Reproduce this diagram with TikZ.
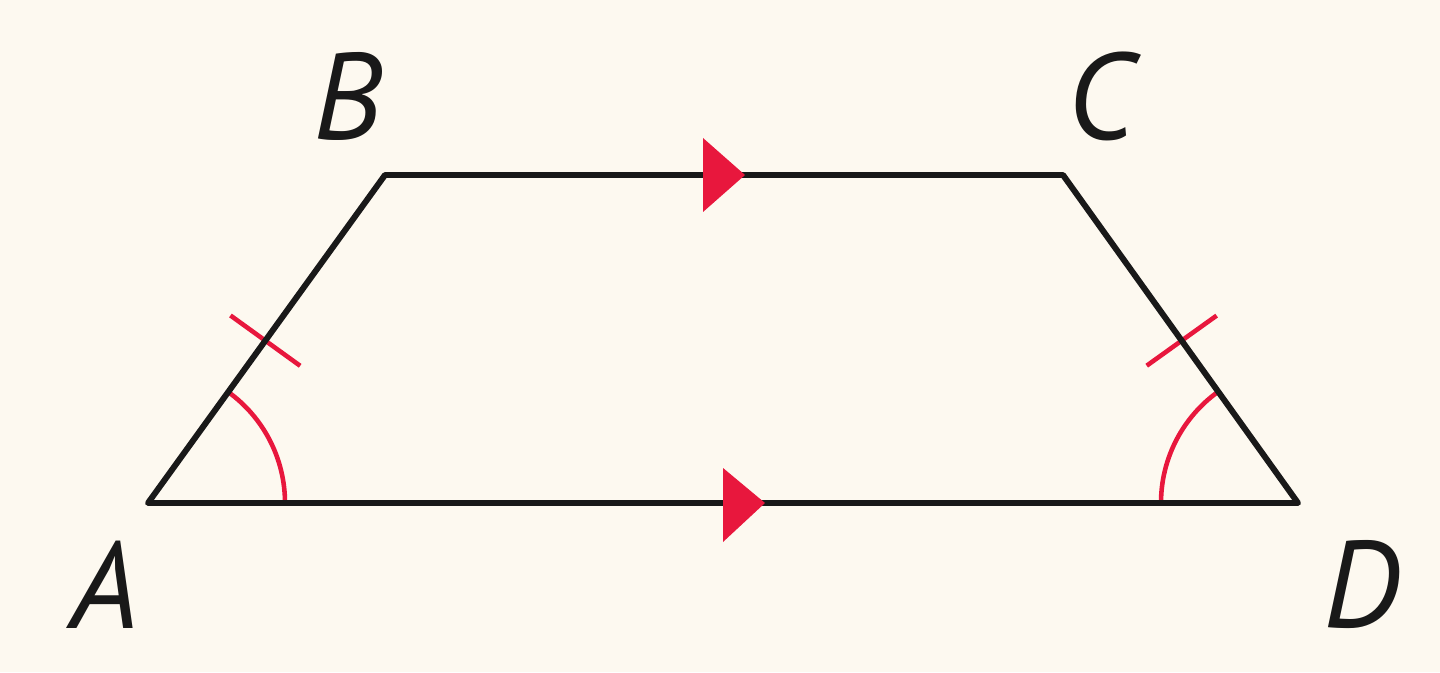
\documentclass[tikz,border=0pt]{standalone}
\usepackage{fontspec}
\setmainfont{PT Sans}
\usetikzlibrary{calc}
\definecolor{bg}{HTML}{FDF9F0}
\definecolor{mred}{HTML}{E8173D}
\begin{document}
\begin{tikzpicture}[
  edge/.style={line width=1.7pt, line cap=round, line join=round, black!90},
  redmark/.style={line width=1.3pt, mred},
  lab/.style={font=\fontsize{35}{40}\selectfont\itshape, text=black!90, inner sep=0pt}
]
\fill[bg] (0,0) rectangle (14.4,6.72);
\useasboundingbox (0,0) rectangle (14.4,6.72);
\coordinate (A) at (1.48,1.69);
\coordinate (B) at (3.85,4.97);
\coordinate (C) at (10.63,4.97);
\coordinate (D) at (12.98,1.69);
% angle arcs
\draw[redmark] ([shift={(0:1.37)}]A) arc[start angle=0, end angle=54.2, radius=1.37];
\draw[redmark] ([shift={(180:1.37)}]D) arc[start angle=180, end angle=125.6, radius=1.37];
% tick marks
\coordinate (t1) at ($(A)!0.495!(B)$);
\draw[redmark] ($(t1)!0.43cm!90:(B)$) -- ($(t1)!0.43cm!-90:(B)$);
\coordinate (t2) at ($(D)!0.495!(C)$);
\draw[redmark] ($(t2)!0.43cm!90:(C)$) -- ($(t2)!0.43cm!-90:(C)$);
% edges
\draw[edge] (A) -- (B) -- (C) -- (D) -- cycle;
% parallel arrows
\fill[mred] (7.03,5.34) -- (7.45,4.97) -- (7.03,4.60) -- cycle;
\fill[mred] (7.23,2.04) -- (7.65,1.69) -- (7.23,1.30) -- cycle;
% labels
\node[lab] (lA) at (1.05,0.87) {A};
\node[lab] (lB) at (3.48,5.76) {B};
\node[lab] (lC) at (11.01,5.76) {C};
\node[lab] (lD) at (13.62,0.87) {D};
\end{tikzpicture}
\end{document}
